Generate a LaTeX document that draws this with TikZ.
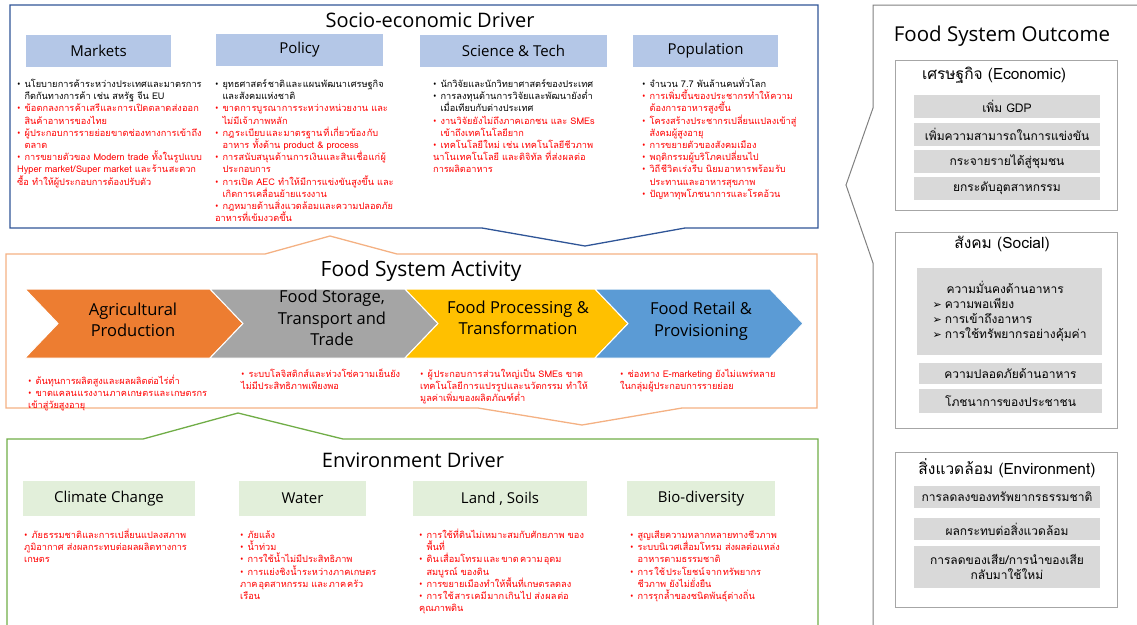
\documentclass[tikz,border=0pt]{standalone}
\usepackage{fontspec}
\setmainfont{Open Sans}
\newfontfamily\thai[Script=Thai]{Loma}
\newfontfamily\sym{DejaVu Sans}
\XeTeXlinebreaklocale "th"
\XeTeXlinebreakskip = 0pt plus 1pt
\usetikzlibrary{positioning}
\definecolor{socio}{HTML}{2F5597}
\definecolor{hdrblue}{HTML}{B4C7E7}
\definecolor{act}{HTML}{F4B183}
\definecolor{env}{HTML}{70AD47}
\definecolor{hdrgreen}{HTML}{E2EFDA}
\definecolor{outgray}{HTML}{808080}
\definecolor{boxgray}{HTML}{A6A6A6}
\definecolor{itemgray}{HTML}{D9D9D9}
\definecolor{agri}{HTML}{ED7D31}
\definecolor{store}{HTML}{A5A5A5}
\definecolor{proc}{HTML}{FFC000}
\definecolor{retail}{HTML}{5B9BD5}
\newcommand{\pt}[2][black]{\par\hangindent=0.8em\hangafter=1\noindent\makebox[0.8em][l]{\textcolor{#1}{\rmfamily\textbullet}}\textcolor{#1}{#2}}
\newcommand{\ar}[1]{{\sym\fontsize{11}{13}\selectfont\char"27A2}\hspace{3pt}#1}

\begin{document}
\begin{tikzpicture}[x=1pt,y=-1pt,
  title/.style={font=\fontsize{20}{23}\selectfont},
  hdr/.style={inner sep=0,font=\fontsize{15}{18}\selectfont},
  chevlbl/.style={align=center,font=\fontsize{16.5}{21.5}\selectfont},
  blist/.style={anchor=north west,inner sep=0,align=left,font=\thai\fontsize{9.2}{12.2}\selectfont},
  subttl/.style={font=\thai\fontsize{15.5}{18}\selectfont},
  outitem/.style={fill=itemgray,inner sep=0,align=center,font=\thai\fontsize{12}{15}\selectfont}]
  \useasboundingbox (0,0) rectangle (1137,624);
  \clip (0,0) rectangle (1137,624);

  \draw[socio,line width=1.3pt] (10,5) -- (818,5) -- (818,228) -- (685,228) -- (585,246) -- (482,228) -- (10,228) -- cycle;
  \node[title] (socio) at (430,20) {Socio-economic Driver};
  \node[hdr,fill=hdrblue,minimum width=145pt,minimum height=32pt] (mkt) at (98.5,51) {Markets};
  \node[hdr,fill=hdrblue,minimum width=167pt,minimum height=32pt] (pol) at (299.5,50) {Policy};
  \node[hdr,fill=hdrblue,minimum width=187pt,minimum height=32pt] (sci) at (513.5,51) {Science \& Tech};
  \node[hdr,fill=hdrblue,minimum width=145pt,minimum height=32pt] (pop) at (705.5,51) {Population};
  \node[blist,text width=188pt] (mkttxt) at (17,75) {\pt{นโยบายการค้าระหว่างประเทศและมาตรการกีดกันทางการค้า เช่น สหรัฐ จีน EU}\pt[red]{ข้อตกลงการค้าเสรีและการเปิดตลาดส่งออกสินค้าอาหารของไทย}\pt[red]{ผู้ประกอบการรายย่อยขาดช่องทางการเข้าถึงตลาด}\pt[red]{การขยายตัวของ Modern trade ทั้งในรูปแบบ Hyper market/Super market และร้านสะดวกซื้อ ทำให้ผู้ประกอบการต้องปรับตัว}};
  \node[blist,text width=180pt] (poltxt) at (215,75) {\pt{ยุทธศาสตร์ชาติและแผนพัฒนาเศรษฐกิจและสังคมแห่งชาติ}\pt[red]{ขาดการบูรณาการระหว่างหน่วยงาน และไม่มีเจ้าภาพหลัก}\pt[red]{กฎระเบียบและมาตรฐานที่เกี่ยวข้องกับอาหาร ทั้งด้าน product \& process}\pt[red]{การสนับสนุนด้านการเงินและสินเชื่อแก่ผู้ประกอบการ}\pt[red]{การเปิด AEC ทำให้มีการแข่งขันสูงขึ้น และเกิดการเคลื่อนย้ายแรงงาน}\pt[red]{กฎหมายด้านสิ่งแวดล้อมและความปลอดภัยอาหารที่เข้มงวดขึ้น}};
  \node[blist,text width=163pt] (scitxt) at (433,75) {\pt{นักวิจัยและนักวิทยาศาสตร์ของประเทศ}\pt{การลงทุนด้านการวิจัยและพัฒนายังต่ำเมื่อเทียบกับต่างประเทศ}\pt[red]{งานวิจัยยังไม่ถึงภาคเอกชน และ SMEs เข้าถึงเทคโนโลยียาก}\pt[red]{เทคโนโลยีใหม่ เช่น เทคโนโลยีชีวภาพ นาโนเทคโนโลยี และดิจิทัล ที่ส่งผลต่อการผลิตอาหาร}};
  \node[blist,text width=155pt] (poptxt) at (642,75) {\pt{จำนวน 7.7 พันล้านคนทั่วโลก}\pt[red]{การเพิ่มขึ้นของประชากรทำให้ความต้องการอาหารสูงขึ้น}\pt[red]{โครงสร้างประชากรเปลี่ยนแปลงเข้าสู่สังคมผู้สูงอายุ}\pt[red]{การขยายตัวของสังคมเมือง}\pt[red]{พฤติกรรมผู้บริโภคเปลี่ยนไป}\pt[red]{วิถีชีวิตเร่งรีบ นิยมอาหารพร้อมรับประทานและอาหารสุขภาพ}\pt[red]{ปัญหาทุพโภชนาการและโรคอ้วน}};

  \draw[act,line width=1.3pt] (6,254) -- (265,254) -- (330,236) -- (397,254) -- (817,254) -- (817,408) -- (682,408) -- (582,425) -- (478,408) -- (6,408) -- cycle;
  \node[title,font=\fontsize{21}{24}\selectfont] (act) at (421,271) {Food System Activity};
  \filldraw[agri,draw=white,line width=1pt] (25,289) -- (210,289) -- (243,323.5) -- (210,358) -- (25,358) -- (58,323.5) -- cycle;
  \filldraw[store,draw=white,line width=1pt] (210,289) -- (405,289) -- (438,323.5) -- (405,358) -- (210,358) -- (243,323.5) -- cycle;
  \filldraw[proc,draw=white,line width=1pt] (405,289) -- (595,289) -- (628,323.5) -- (595,358) -- (405,358) -- (438,323.5) -- cycle;
  \filldraw[retail,draw=white,line width=1pt] (595,289) -- (770,289) -- (803,323.5) -- (770,358) -- (595,358) -- (628,323.5) -- cycle;
  \node[chevlbl] (agrilbl) at (133,320) {Agricultural\\Production};
  \node[chevlbl] (storelbl) at (332,318) {Food Storage,\\Transport and\\Trade};
  \node[chevlbl] (proclbl) at (518,318) {Food Processing \&\\Transformation};
  \node[chevlbl] (retaillbl) at (701,321) {Food Retail \&\\Provisioning};
  \node[blist,text width=190pt] (agritxt) at (28,372) {\pt[red]{ต้นทุนการผลิตสูงและผลผลิตต่อไร่ต่ำ}\pt[red]{ขาดแคลนแรงงานภาคเกษตรและเกษตรกรเข้าสู่วัยสูงอายุ}};
  \node[blist,text width=160pt] (storetxt) at (241,365) {\pt[red]{ระบบโลจิสติกส์และห่วงโซ่ความเย็นยังไม่มีประสิทธิภาพเพียงพอ}};
  \node[blist,text width=175pt] (proctxt) at (420,365) {\pt[red]{ผู้ประกอบการส่วนใหญ่เป็น SMEs ขาดเทคโนโลยีการแปรรูปและนวัตกรรม ทำให้มูลค่าเพิ่มของผลิตภัณฑ์ต่ำ}};
  \node[blist,text width=158pt] (retailtxt) at (620,365) {\pt[red]{ช่องทาง E-marketing ยังไม่แพร่หลายในกลุ่มผู้ประกอบการรายย่อย}};

  \draw[env,line width=1.3pt] (7,439) -- (143,439) -- (238,413) -- (343,439) -- (818,439) -- (818,640) -- (7,640) -- cycle;
  \node[title] (env) at (413,460) {Environment Driver};
  \node[hdr,fill=hdrgreen,minimum width=172pt,minimum height=35pt] (clim) at (109,498.5) {Climate Change};
  \node[hdr,fill=hdrgreen,minimum width=127pt,minimum height=35pt] (water) at (302.5,498.5) {Water};
  \node[hdr,fill=hdrgreen,minimum width=174pt,minimum height=35pt] (land) at (500,498.5) {Land , Soils};
  \node[hdr,fill=hdrgreen,minimum width=148pt,minimum height=35pt] (bio) at (701,498.5) {Bio-diversity};
  \node[blist,text width=165pt] (climtxt) at (24,526) {\pt[red]{ภัยธรรมชาติและการเปลี่ยนแปลงสภาพภูมิอากาศ ส่งผลกระทบต่อผลผลิตทางการเกษตร}};
  \node[blist,text width=140pt] (watertxt) at (240,526) {\pt[red]{ภัยแล้ง}\pt[red]{น้ำท่วม}\pt[red]{การใช้น้ำไม่มีประสิทธิภาพ}\pt[red]{การแย่งชิงน้ำระหว่างภาคเกษตร ภาคอุตสาหกรรม และภาคครัวเรือน}};
  \node[blist,text width=165pt] (landtxt) at (419,526) {\pt[red]{การใช้ที่ดินไม่เหมาะสมกับศักยภาพ ของพื้นที่}\pt[red]{ดินเสื่อมโทรมและขาดความอุดมสมบูรณ์ ของดิน}\pt[red]{การขยายเมืองทำให้พื้นที่เกษตรลดลง}\pt[red]{การใช้สารเคมีมากเกินไป ส่งผลต่อ คุณภาพดิน}};
  \node[blist,text width=150pt] (biotxt) at (630,526) {\pt[red]{สูญเสียความหลากหลายทางชีวภาพ}\pt[red]{ระบบนิเวศเสื่อมโทรม ส่งผลต่อแหล่งอาหารตามธรรมชาติ}\pt[red]{การใช้ประโยชน์จากทรัพยากรชีวภาพ ยังไม่ยั่งยืน}\pt[red]{การรุกล้ำของชนิดพันธุ์ต่างถิ่น}};

  \draw[outgray,line width=1pt] (1145,5) -- (873,5) -- (873,108) -- (846,185) -- (873,263) -- (873,640);
  \node[title,font=\fontsize{20.5}{24}\selectfont] (out) at (1002,36) {Food System Outcome};
  \draw[boxgray,line width=1pt] (895,60) rectangle (1117,210);
  \node[subttl] (econ) at (994,75) {เศรษฐกิจ (Economic)};
  \node[outitem,minimum width=186pt,minimum height=23pt] (e1) at (1007,106.5) {เพิ่ม GDP};
  \node[outitem,minimum width=186pt,minimum height=23pt] (e2) at (1007,134.5) {เพิ่มความสามารถในการแข่งขัน};
  \node[outitem,minimum width=186pt,minimum height=23pt] (e3) at (1007,161.5) {กระจายรายได้สู่ชุมชน};
  \node[outitem,minimum width=186pt,minimum height=23pt] (e4) at (1007,188.5) {ยกระดับอุตสาหกรรม};
  \draw[boxgray,line width=1pt] (895,232) rectangle (1117,428);
  \node[subttl] (soc) at (1002,244) {สังคม (Social)};
  \node[outitem,minimum width=185pt,minimum height=87pt,align=left] (s1) at (1009.5,311.5) {\hspace*{14pt}ความมั่นคงด้านอาหาร\\\ar{ความพอเพียง}\\\ar{การเข้าถึงอาหาร}\\\ar{การใช้ทรัพยากรอย่างคุ้มค่า}};
  \node[outitem,minimum width=183pt,minimum height=21pt] (s2) at (1010.5,373.5) {ความปลอดภัยด้านอาหาร};
  \node[outitem,minimum width=183pt,minimum height=24pt] (s3) at (1010.5,401) {โภชนาการของประชาชน};
  \draw[boxgray,line width=1pt] (895,452) rectangle (1117,607);
  \node[subttl] (envout) at (1007,468) {สิ่งแวดล้อม (Environment)};
  \node[outitem,minimum width=186pt,minimum height=22pt] (v1) at (1007,497) {การลดลงของทรัพยากรธรรมชาติ};
  \node[outitem,minimum width=186pt,minimum height=22pt] (v2) at (1007,529) {ผลกระทบต่อสิ่งแวดล้อม};
  \node[outitem,minimum width=186pt,minimum height=42pt] (v3) at (1007,567) {การลดของเสีย/การนำของเสีย\\กลับมาใช้ใหม่};
\end{tikzpicture}
\end{document}
